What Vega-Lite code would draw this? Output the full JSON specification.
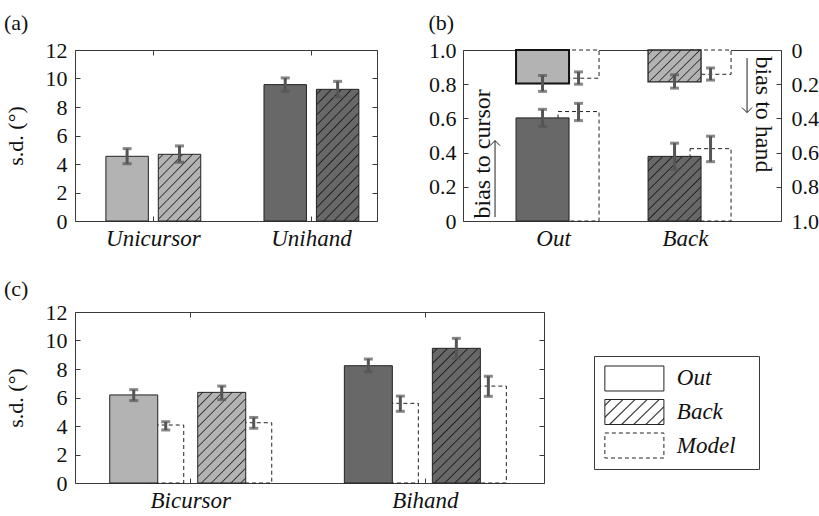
{
"$schema": "https://vega.github.io/schema/vega-lite/v6.json",
"padding": {"left": 3, "top": 11, "right": 0, "bottom": 0},
"background": "white",
"datasets": {
 "a": [
  {"group":"Unicursor","dir":"Out","sd":4.54,"lo":4.02,"hi":5.08},
  {"group":"Unicursor","dir":"Back","sd":4.68,"lo":4.12,"hi":5.27},
  {"group":"Unihand","dir":"Out","sd":9.57,"lo":9.1,"hi":10.04},
  {"group":"Unihand","dir":"Back","sd":9.24,"lo":8.7,"hi":9.8}
 ],
 "b": [
  {"dir":"Out","src":"data","cursor":0.603,"cLo":0.552,"cHi":0.653,"hand":0.196,"hLo":0.149,"hHi":0.242},
  {"dir":"Out","src":"model","cursor":0.64,"cLo":0.587,"cHi":0.688,"hand":0.165,"hLo":0.128,"hHi":0.2},
  {"dir":"Back","src":"data","cursor":0.378,"cLo":0.3,"cHi":0.455,"hand":0.186,"hLo":0.145,"hHi":0.223},
  {"dir":"Back","src":"model","cursor":0.423,"cLo":0.347,"cHi":0.496,"hand":0.142,"hLo":0.105,"hHi":0.176}
 ],
 "c": [
  {"group":"Bicursor","dir":"Out","src":"data","sd":6.18,"lo":5.78,"hi":6.55},
  {"group":"Bicursor","dir":"Out","src":"model","sd":4.07,"lo":3.72,"hi":4.3},
  {"group":"Bicursor","dir":"Back","src":"data","sd":6.36,"lo":5.85,"hi":6.8},
  {"group":"Bicursor","dir":"Back","src":"model","sd":4.23,"lo":3.84,"hi":4.6},
  {"group":"Bihand","dir":"Out","src":"data","sd":8.23,"lo":7.81,"hi":8.7},
  {"group":"Bihand","dir":"Out","src":"model","sd":5.59,"lo":5.03,"hi":6.1},
  {"group":"Bihand","dir":"Back","src":"data","sd":9.45,"lo":8.75,"hi":10.15},
  {"group":"Bihand","dir":"Back","src":"model","sd":6.8,"lo":6.08,"hi":7.49}
 ],
 "legend": [{"item":"Out"},{"item":"Back"},{"item":"Model"}]
},
"config": {
 "font": "Liberation Serif",
 "view": {"stroke": "#3a3a3a", "strokeWidth": 1},
 "axis": {"grid": false, "domain": false, "labelOverlap": false, "labelFont": "Liberation Serif", "labelFontSize": 22, "labelColor": "#111111", "titleFont": "Liberation Serif", "titleFontSize": 22, "titleFontWeight": "normal", "titleColor": "#111111", "tickColor": "#3a3a3a", "tickWidth": 1, "tickSize": -5},
 "title": {"font": "Liberation Serif", "fontSize": 22, "fontWeight": "normal", "color": "#111111", "anchor": "start", "frame": "bounds", "baseline": "alphabetic"}
},
"spacing": 26,
"vconcat": [
 {"spacing": 50, "hconcat": [
  {
   "title": {"text": "(a)", "offset": 4},
   "width": 302, "height": 171,
   "data": {"name": "a"},
   "encoding": {
    "x": {"field": "group", "type": "nominal", "scale": {"domain": ["Unicursor","Unihand"], "paddingInner": 0.4, "paddingOuter": 0.155, "align": 0.63}, "axis": {"title": null, "labelAngle": 0, "labelFontStyle": "italic", "labelFontSize": 23, "labelPadding": 11}},
    "xOffset": {"field": "dir", "type": "nominal", "scale": {"domain": ["Out","Back"], "paddingInner": 0.19, "paddingOuter": 0}}
   },
   "layer": [
    {"layer": [
     {"transform": [{"filter": "datum.dir === 'Out'"}], "mark": {"type": "bar", "stroke": "#222222", "strokeWidth": 1},
      "encoding": {"y": {"field": "sd", "type": "quantitative", "scale": {"domain": [0,12], "nice": false}, "axis": {"title": "s.d. (°)", "values": [0,4,8,12], "labelPadding": 13, "titlePadding": 18}},
       "fill": {"field": "group", "type": "nominal", "scale": {"domain": ["Unicursor","Unihand"], "range": ["#b3b3b3","#686868"]}, "legend": null}}},
     {"transform": [{"filter": "datum.dir === 'Back' && datum.group === 'Unicursor'"}],
      "mark": {"type": "bar", "stroke": "#222222", "strokeWidth": 1, "fill": {"gradient": "linear", "x1": 0, "y1": 0, "x2": 0.755, "y2": 1.159, "stops": [
       {"offset":0.0336,"color":"#b3b3b3"},{"offset":0.0455,"color":"#333333"},{"offset":0.0573,"color":"#b3b3b3"},
       {"offset":0.1245,"color":"#b3b3b3"},{"offset":0.1364,"color":"#333333"},{"offset":0.1482,"color":"#b3b3b3"},
       {"offset":0.2155,"color":"#b3b3b3"},{"offset":0.2273,"color":"#333333"},{"offset":0.2391,"color":"#b3b3b3"},
       {"offset":0.3064,"color":"#b3b3b3"},{"offset":0.3182,"color":"#333333"},{"offset":0.3300,"color":"#b3b3b3"},
       {"offset":0.3973,"color":"#b3b3b3"},{"offset":0.4091,"color":"#333333"},{"offset":0.4209,"color":"#b3b3b3"},
       {"offset":0.4882,"color":"#b3b3b3"},{"offset":0.5,"color":"#333333"},{"offset":0.5118,"color":"#b3b3b3"},
       {"offset":0.5791,"color":"#b3b3b3"},{"offset":0.5909,"color":"#333333"},{"offset":0.6027,"color":"#b3b3b3"},
       {"offset":0.6700,"color":"#b3b3b3"},{"offset":0.6818,"color":"#333333"},{"offset":0.6936,"color":"#b3b3b3"},
       {"offset":0.7609,"color":"#b3b3b3"},{"offset":0.7727,"color":"#333333"},{"offset":0.7845,"color":"#b3b3b3"},
       {"offset":0.8518,"color":"#b3b3b3"},{"offset":0.8636,"color":"#333333"},{"offset":0.8754,"color":"#b3b3b3"},
       {"offset":0.9427,"color":"#b3b3b3"},{"offset":0.9545,"color":"#333333"},{"offset":0.9663,"color":"#b3b3b3"}]}},
      "encoding": {"y": {"field": "sd", "type": "quantitative"}}},
     {"transform": [{"filter": "datum.dir === 'Back' && datum.group === 'Unihand'"}],
      "mark": {"type": "bar", "stroke": "#222222", "strokeWidth": 1, "fill": {"gradient": "linear", "x1": 0, "y1": 0, "x2": 0.397, "y2": 1.2, "stops": [
       {"offset":0.0218,"color":"#686868"},{"offset":0.0294,"color":"#1e1e1e"},{"offset":0.0371,"color":"#686868"},
       {"offset":0.0806,"color":"#686868"},{"offset":0.0882,"color":"#1e1e1e"},{"offset":0.0959,"color":"#686868"},
       {"offset":0.1394,"color":"#686868"},{"offset":0.1471,"color":"#1e1e1e"},{"offset":0.1547,"color":"#686868"},
       {"offset":0.1982,"color":"#686868"},{"offset":0.2059,"color":"#1e1e1e"},{"offset":0.2135,"color":"#686868"},
       {"offset":0.2571,"color":"#686868"},{"offset":0.2647,"color":"#1e1e1e"},{"offset":0.2724,"color":"#686868"},
       {"offset":0.3159,"color":"#686868"},{"offset":0.3235,"color":"#1e1e1e"},{"offset":0.3312,"color":"#686868"},
       {"offset":0.3747,"color":"#686868"},{"offset":0.3824,"color":"#1e1e1e"},{"offset":0.3900,"color":"#686868"},
       {"offset":0.4335,"color":"#686868"},{"offset":0.4412,"color":"#1e1e1e"},{"offset":0.4488,"color":"#686868"},
       {"offset":0.4924,"color":"#686868"},{"offset":0.5,"color":"#1e1e1e"},{"offset":0.5076,"color":"#686868"},
       {"offset":0.5512,"color":"#686868"},{"offset":0.5588,"color":"#1e1e1e"},{"offset":0.5665,"color":"#686868"},
       {"offset":0.6100,"color":"#686868"},{"offset":0.6176,"color":"#1e1e1e"},{"offset":0.6253,"color":"#686868"},
       {"offset":0.6688,"color":"#686868"},{"offset":0.6765,"color":"#1e1e1e"},{"offset":0.6841,"color":"#686868"},
       {"offset":0.7276,"color":"#686868"},{"offset":0.7353,"color":"#1e1e1e"},{"offset":0.7429,"color":"#686868"},
       {"offset":0.7865,"color":"#686868"},{"offset":0.7941,"color":"#1e1e1e"},{"offset":0.8018,"color":"#686868"},
       {"offset":0.8453,"color":"#686868"},{"offset":0.8529,"color":"#1e1e1e"},{"offset":0.8606,"color":"#686868"},
       {"offset":0.9041,"color":"#686868"},{"offset":0.9118,"color":"#1e1e1e"},{"offset":0.9194,"color":"#686868"},
       {"offset":0.9629,"color":"#686868"},{"offset":0.9706,"color":"#1e1e1e"},{"offset":0.9782,"color":"#686868"}]}},
      "encoding": {"y": {"field": "sd", "type": "quantitative"}}},
     {"mark": {"type": "rule", "color": "#555555", "strokeWidth": 3}, "encoding": {"y": {"field": "lo", "type": "quantitative"}, "y2": {"field": "hi"}}},
     {"transform": [{"fold": ["lo","hi"], "as": ["end","val"]}], "mark": {"type": "tick", "orient": "horizontal", "color": "#555555", "size": 9, "thickness": 3}, "encoding": {"y": {"field": "val", "type": "quantitative"}}}
    ]},
    {"mark": {"type": "point", "opacity": 0},
     "encoding": {"x": {"field": "group", "type": "nominal", "axis": {"orient": "top", "labels": false, "title": null}},
      "y": {"field": "sd", "type": "quantitative", "axis": {"orient": "right", "labels": false, "title": null, "values": [0,2,4,6,8,10,12]}}}},
    {"mark": {"type": "point", "opacity": 0},
     "encoding": {"x": {"field": "group", "type": "nominal", "axis": null},
      "y": {"field": "sd", "type": "quantitative", "axis": {"orient": "left", "title": null, "values": [2,6,10], "labelPadding": 13}}}}
   ],
   "resolve": {"axis": {"x": "independent", "y": "independent"}}
  },
  {
   "title": {"text": "(b)", "offset": 4},
   "width": 318, "height": 171,
   "data": {"name": "b"},
   "encoding": {
    "x": {"field": "dir", "type": "nominal", "scale": {"domain": ["Out","Back"], "paddingInner": 0.371, "paddingOuter": 0.39, "align": 0.515}, "axis": {"title": null, "labelAngle": 0, "labelFontStyle": "italic", "labelFontSize": 23, "labelPadding": 6, "labelOffset": -4, "ticks": false}}
   },
   "layer": [
    {"layer": [
     {"layer": [
      {"transform": [{"filter": "datum.src === 'model'"}], "mark": {"type": "bar", "width": 41, "xOffset": 21, "fill": "white", "stroke": "#222222", "strokeWidth": 1, "strokeDash": [4,3]},
       "encoding": {"y": {"field": "cursor", "type": "quantitative", "scale": {"domain": [0,1], "nice": false},
        "axis": {"orient": "left", "values": [0,0.4,0.8], "labelExpr": "datum.value === 0 ? '0' : format(datum.value, '.1f')", "labelPadding": 12,
         "title": "bias to cursor", "titleAngle": -90, "titleX": 7, "titleY": 168, "titleAlign": "left", "titleBaseline": "top", "titleFontSize": 24}}}},
      {"transform": [{"filter": "datum.src === 'data' && datum.dir === 'Out'"}], "mark": {"type": "bar", "width": 53, "xOffset": -15, "fill": "#686868", "stroke": "#222222", "strokeWidth": 1},
       "encoding": {"y": {"field": "cursor", "type": "quantitative"}}},
      {"transform": [{"filter": "datum.src === 'data' && datum.dir === 'Back'"}], "mark": {"type": "bar", "width": 53, "xOffset": -15, "stroke": "#222222", "strokeWidth": 1,
       "fill": {"gradient": "linear", "x1": 0, "y1": 0, "x2": 0.889, "y2": 1.09, "stops": [
        {"offset":0.0308,"color":"#686868"},{"offset":0.0417,"color":"#1e1e1e"},{"offset":0.0525,"color":"#686868"},
        {"offset":0.1142,"color":"#686868"},{"offset":0.125,"color":"#1e1e1e"},{"offset":0.1358,"color":"#686868"},
        {"offset":0.1975,"color":"#686868"},{"offset":0.2083,"color":"#1e1e1e"},{"offset":0.2192,"color":"#686868"},
        {"offset":0.2808,"color":"#686868"},{"offset":0.2917,"color":"#1e1e1e"},{"offset":0.3025,"color":"#686868"},
        {"offset":0.3642,"color":"#686868"},{"offset":0.375,"color":"#1e1e1e"},{"offset":0.3858,"color":"#686868"},
        {"offset":0.4475,"color":"#686868"},{"offset":0.4583,"color":"#1e1e1e"},{"offset":0.4692,"color":"#686868"},
        {"offset":0.5308,"color":"#686868"},{"offset":0.5417,"color":"#1e1e1e"},{"offset":0.5525,"color":"#686868"},
        {"offset":0.6142,"color":"#686868"},{"offset":0.625,"color":"#1e1e1e"},{"offset":0.6358,"color":"#686868"},
        {"offset":0.6975,"color":"#686868"},{"offset":0.7083,"color":"#1e1e1e"},{"offset":0.7192,"color":"#686868"},
        {"offset":0.7808,"color":"#686868"},{"offset":0.7917,"color":"#1e1e1e"},{"offset":0.8025,"color":"#686868"},
        {"offset":0.8642,"color":"#686868"},{"offset":0.875,"color":"#1e1e1e"},{"offset":0.8858,"color":"#686868"},
        {"offset":0.9475,"color":"#686868"},{"offset":0.9583,"color":"#1e1e1e"},{"offset":0.9692,"color":"#686868"}]}},
       "encoding": {"y": {"field": "cursor", "type": "quantitative"}}},
      {"transform": [{"filter": "datum.src === 'data'"}], "mark": {"type": "rule", "color": "#555555", "strokeWidth": 3, "xOffset": -15}, "encoding": {"y": {"field": "cLo", "type": "quantitative"}, "y2": {"field": "cHi"}}},
      {"transform": [{"filter": "datum.src === 'data'"}, {"fold": ["cLo","cHi"], "as": ["end","val"]}], "mark": {"type": "tick", "orient": "horizontal", "color": "#555555", "size": 9, "thickness": 3, "xOffset": -15}, "encoding": {"y": {"field": "val", "type": "quantitative"}}},
      {"transform": [{"filter": "datum.src === 'model'"}], "mark": {"type": "rule", "color": "#555555", "strokeWidth": 3, "xOffset": 21}, "encoding": {"y": {"field": "cLo", "type": "quantitative"}, "y2": {"field": "cHi"}}},
      {"transform": [{"filter": "datum.src === 'model'"}, {"fold": ["cLo","cHi"], "as": ["end","val"]}], "mark": {"type": "tick", "orient": "horizontal", "color": "#555555", "size": 9, "thickness": 3, "xOffset": 21}, "encoding": {"y": {"field": "val", "type": "quantitative"}}},
      {"data": {"values": [{}]}, "mark": {"type": "rule", "color": "#222222", "strokeWidth": 1, "xOffset": -62.5}, "encoding": {"x": {"datum": "Out", "type": "nominal"}, "y": {"datum": 0.023, "type": "quantitative"}, "y2": {"datum": 0.47}}},
      {"data": {"values": [{}]}, "mark": {"type": "point", "shape": "M-1,1L0,0L1,1", "size": 100, "filled": false, "opacity": 1, "stroke": "#222222", "strokeWidth": 1, "xOffset": -62.5}, "encoding": {"x": {"datum": "Out", "type": "nominal"}, "y": {"datum": 0.47, "type": "quantitative"}}}
     ]},
     {"mark": {"type": "point", "opacity": 0},
      "encoding": {"y": {"field": "cursor", "type": "quantitative", "axis": {"orient": "left", "title": null, "values": [0.2,0.6,1], "labelExpr": "format(datum.value, '.1f')", "labelPadding": 12}}}}
    ], "resolve": {"axis": {"y": "independent"}}},
    {"layer": [
     {"layer": [
      {"transform": [{"filter": "datum.src === 'model'"}], "mark": {"type": "bar", "width": 41, "xOffset": 21, "fill": "white", "stroke": "#222222", "strokeWidth": 1, "strokeDash": [4,3]},
       "encoding": {"y": {"field": "hand", "type": "quantitative", "scale": {"domain": [0,1], "nice": false, "reverse": true},
        "axis": {"orient": "right", "values": [0,0.4,0.8], "labelExpr": "datum.value === 0 ? '0' : format(datum.value, '.1f')", "labelPadding": 15,
         "title": "bias to hand", "titleAngle": 90, "titleX": -7, "titleY": 6, "titleAlign": "left", "titleBaseline": "top", "titleFontSize": 24}}}},
      {"transform": [{"filter": "datum.src === 'data' && datum.dir === 'Out'"}], "mark": {"type": "bar", "width": 53, "xOffset": -15, "fill": "#b3b3b3", "stroke": "#111111", "strokeWidth": 2},
       "encoding": {"y": {"field": "hand", "type": "quantitative"}}},
      {"transform": [{"filter": "datum.src === 'data' && datum.dir === 'Back'"}], "mark": {"type": "bar", "width": 53, "xOffset": -15, "stroke": "#222222", "strokeWidth": 1.3,
       "fill": {"gradient": "linear", "x1": 0, "y1": 0, "x2": 1.175, "y2": 0.71, "stops": [
        {"offset":0.0411,"color":"#b3b3b3"},{"offset":0.0556,"color":"#333333"},{"offset":0.0700,"color":"#b3b3b3"},
        {"offset":0.1522,"color":"#b3b3b3"},{"offset":0.1667,"color":"#333333"},{"offset":0.1811,"color":"#b3b3b3"},
        {"offset":0.2633,"color":"#b3b3b3"},{"offset":0.2778,"color":"#333333"},{"offset":0.2922,"color":"#b3b3b3"},
        {"offset":0.3744,"color":"#b3b3b3"},{"offset":0.3889,"color":"#333333"},{"offset":0.4033,"color":"#b3b3b3"},
        {"offset":0.4856,"color":"#b3b3b3"},{"offset":0.5,"color":"#333333"},{"offset":0.5144,"color":"#b3b3b3"},
        {"offset":0.5967,"color":"#b3b3b3"},{"offset":0.6111,"color":"#333333"},{"offset":0.6256,"color":"#b3b3b3"},
        {"offset":0.7078,"color":"#b3b3b3"},{"offset":0.7222,"color":"#333333"},{"offset":0.7367,"color":"#b3b3b3"},
        {"offset":0.8189,"color":"#b3b3b3"},{"offset":0.8333,"color":"#333333"},{"offset":0.8478,"color":"#b3b3b3"},
        {"offset":0.9300,"color":"#b3b3b3"},{"offset":0.9444,"color":"#333333"},{"offset":0.9589,"color":"#b3b3b3"}]}},
       "encoding": {"y": {"field": "hand", "type": "quantitative"}}},
      {"transform": [{"filter": "datum.src === 'data'"}], "mark": {"type": "rule", "color": "#555555", "strokeWidth": 3, "xOffset": -15}, "encoding": {"y": {"field": "hLo", "type": "quantitative"}, "y2": {"field": "hHi"}}},
      {"transform": [{"filter": "datum.src === 'data'"}, {"fold": ["hLo","hHi"], "as": ["end","val"]}], "mark": {"type": "tick", "orient": "horizontal", "color": "#555555", "size": 9, "thickness": 3, "xOffset": -15}, "encoding": {"y": {"field": "val", "type": "quantitative"}}},
      {"transform": [{"filter": "datum.src === 'model'"}], "mark": {"type": "rule", "color": "#555555", "strokeWidth": 3, "xOffset": 21}, "encoding": {"y": {"field": "hLo", "type": "quantitative"}, "y2": {"field": "hHi"}}},
      {"transform": [{"filter": "datum.src === 'model'"}, {"fold": ["hLo","hHi"], "as": ["end","val"]}], "mark": {"type": "tick", "orient": "horizontal", "color": "#555555", "size": 9, "thickness": 3, "xOffset": 21}, "encoding": {"y": {"field": "val", "type": "quantitative"}}},
      {"data": {"values": [{}]}, "mark": {"type": "rule", "color": "#222222", "strokeWidth": 1, "xOffset": 57.5}, "encoding": {"x": {"datum": "Back", "type": "nominal"}, "y": {"datum": 0.047, "type": "quantitative"}, "y2": {"datum": 0.366}}},
      {"data": {"values": [{}]}, "mark": {"type": "point", "shape": "M-1,-1L0,0L1,-1", "size": 100, "filled": false, "opacity": 1, "stroke": "#222222", "strokeWidth": 1, "xOffset": 57.5}, "encoding": {"x": {"datum": "Back", "type": "nominal"}, "y": {"datum": 0.366, "type": "quantitative"}}}
     ]},
     {"mark": {"type": "point", "opacity": 0},
      "encoding": {"y": {"field": "hand", "type": "quantitative", "axis": {"orient": "right", "title": null, "values": [0.2,0.6,1], "labelExpr": "format(datum.value, '.1f')", "labelPadding": 15}}}}
    ], "resolve": {"axis": {"y": "independent"}}}
   ],
   "resolve": {"scale": {"y": "independent"}, "axis": {"y": "independent"}}
  }
 ]},
 {"spacing": 48, "hconcat": [
  {
   "title": {"text": "(c)", "offset": 0},
   "width": 469, "height": 171,
   "data": {"name": "c"},
   "encoding": {
    "x": {"field": "group", "type": "nominal", "scale": {"domain": ["Bicursor","Bihand"], "paddingInner": 0.311, "paddingOuter": 0.155, "align": 0.48}, "axis": {"title": null, "labelAngle": 0, "labelFontStyle": "italic", "labelFontSize": 23, "labelPadding": 11}}
   },
   "layer": [
    {"layer": [
     {"transform": [{"filter": "datum.src === 'model' && datum.dir === 'Out'"}], "mark": {"type": "bar", "width": 36, "xOffset": -25, "fill": "white", "stroke": "#222222", "strokeWidth": 1, "strokeDash": [4,3]},
      "encoding": {"y": {"field": "sd", "type": "quantitative", "scale": {"domain": [0,12], "nice": false}, "axis": {"title": "s.d. (°)", "values": [0,4,8,12], "labelPadding": 13, "titlePadding": 18}}}},
     {"transform": [{"filter": "datum.src === 'model' && datum.dir === 'Back'"}], "mark": {"type": "bar", "width": 36, "xOffset": 63, "fill": "white", "stroke": "#222222", "strokeWidth": 1, "strokeDash": [4,3]},
      "encoding": {"y": {"field": "sd", "type": "quantitative"}}},
     {"transform": [{"filter": "datum.src === 'data' && datum.dir === 'Out'"}], "mark": {"type": "bar", "width": 48, "xOffset": -57, "stroke": "#222222", "strokeWidth": 1},
      "encoding": {"y": {"field": "sd", "type": "quantitative"},
       "fill": {"field": "group", "type": "nominal", "scale": {"domain": ["Bicursor","Bihand"], "range": ["#b3b3b3","#686868"]}, "legend": null}}},
     {"transform": [{"filter": "datum.src === 'data' && datum.dir === 'Back' && datum.group === 'Bicursor'"}],
      "mark": {"type": "bar", "width": 48, "xOffset": 31, "stroke": "#222222", "strokeWidth": 1, "fill": {"gradient": "linear", "x1": 0, "y1": 0, "x2": 0.637, "y2": 1.194, "stops": [
       {"offset":0.0264,"color":"#b3b3b3"},{"offset":0.0357,"color":"#333333"},{"offset":0.0450,"color":"#b3b3b3"},
       {"offset":0.0979,"color":"#b3b3b3"},{"offset":0.1071,"color":"#333333"},{"offset":0.1164,"color":"#b3b3b3"},
       {"offset":0.1693,"color":"#b3b3b3"},{"offset":0.1786,"color":"#333333"},{"offset":0.1879,"color":"#b3b3b3"},
       {"offset":0.2407,"color":"#b3b3b3"},{"offset":0.25,"color":"#333333"},{"offset":0.2593,"color":"#b3b3b3"},
       {"offset":0.3121,"color":"#b3b3b3"},{"offset":0.3214,"color":"#333333"},{"offset":0.3307,"color":"#b3b3b3"},
       {"offset":0.3836,"color":"#b3b3b3"},{"offset":0.3929,"color":"#333333"},{"offset":0.4021,"color":"#b3b3b3"},
       {"offset":0.4550,"color":"#b3b3b3"},{"offset":0.4643,"color":"#333333"},{"offset":0.4736,"color":"#b3b3b3"},
       {"offset":0.5264,"color":"#b3b3b3"},{"offset":0.5357,"color":"#333333"},{"offset":0.5450,"color":"#b3b3b3"},
       {"offset":0.5979,"color":"#b3b3b3"},{"offset":0.6071,"color":"#333333"},{"offset":0.6164,"color":"#b3b3b3"},
       {"offset":0.6693,"color":"#b3b3b3"},{"offset":0.6786,"color":"#333333"},{"offset":0.6879,"color":"#b3b3b3"},
       {"offset":0.7407,"color":"#b3b3b3"},{"offset":0.75,"color":"#333333"},{"offset":0.7593,"color":"#b3b3b3"},
       {"offset":0.8121,"color":"#b3b3b3"},{"offset":0.8214,"color":"#333333"},{"offset":0.8307,"color":"#b3b3b3"},
       {"offset":0.8836,"color":"#b3b3b3"},{"offset":0.8929,"color":"#333333"},{"offset":0.9021,"color":"#b3b3b3"},
       {"offset":0.9550,"color":"#b3b3b3"},{"offset":0.9643,"color":"#333333"},{"offset":0.9736,"color":"#b3b3b3"}]}},
      "encoding": {"y": {"field": "sd", "type": "quantitative"}}},
     {"transform": [{"filter": "datum.src === 'data' && datum.dir === 'Back' && datum.group === 'Bihand'"}],
      "mark": {"type": "bar", "width": 48, "xOffset": 31, "stroke": "#222222", "strokeWidth": 1, "fill": {"gradient": "linear", "x1": 0, "y1": 0, "x2": 0.428, "y2": 1.203, "stops": [
       {"offset":0.0205,"color":"#686868"},{"offset":0.0278,"color":"#1e1e1e"},{"offset":0.0350,"color":"#686868"},
       {"offset":0.0761,"color":"#686868"},{"offset":0.0833,"color":"#1e1e1e"},{"offset":0.0906,"color":"#686868"},
       {"offset":0.1317,"color":"#686868"},{"offset":0.1389,"color":"#1e1e1e"},{"offset":0.1461,"color":"#686868"},
       {"offset":0.1872,"color":"#686868"},{"offset":0.1944,"color":"#1e1e1e"},{"offset":0.2017,"color":"#686868"},
       {"offset":0.2428,"color":"#686868"},{"offset":0.25,"color":"#1e1e1e"},{"offset":0.2572,"color":"#686868"},
       {"offset":0.2983,"color":"#686868"},{"offset":0.3056,"color":"#1e1e1e"},{"offset":0.3128,"color":"#686868"},
       {"offset":0.3539,"color":"#686868"},{"offset":0.3611,"color":"#1e1e1e"},{"offset":0.3683,"color":"#686868"},
       {"offset":0.4094,"color":"#686868"},{"offset":0.4167,"color":"#1e1e1e"},{"offset":0.4239,"color":"#686868"},
       {"offset":0.4650,"color":"#686868"},{"offset":0.4722,"color":"#1e1e1e"},{"offset":0.4794,"color":"#686868"},
       {"offset":0.5206,"color":"#686868"},{"offset":0.5278,"color":"#1e1e1e"},{"offset":0.5350,"color":"#686868"},
       {"offset":0.5761,"color":"#686868"},{"offset":0.5833,"color":"#1e1e1e"},{"offset":0.5906,"color":"#686868"},
       {"offset":0.6317,"color":"#686868"},{"offset":0.6389,"color":"#1e1e1e"},{"offset":0.6461,"color":"#686868"},
       {"offset":0.6872,"color":"#686868"},{"offset":0.6944,"color":"#1e1e1e"},{"offset":0.7017,"color":"#686868"},
       {"offset":0.7428,"color":"#686868"},{"offset":0.75,"color":"#1e1e1e"},{"offset":0.7572,"color":"#686868"},
       {"offset":0.7983,"color":"#686868"},{"offset":0.8056,"color":"#1e1e1e"},{"offset":0.8128,"color":"#686868"},
       {"offset":0.8539,"color":"#686868"},{"offset":0.8611,"color":"#1e1e1e"},{"offset":0.8683,"color":"#686868"},
       {"offset":0.9094,"color":"#686868"},{"offset":0.9167,"color":"#1e1e1e"},{"offset":0.9239,"color":"#686868"},
       {"offset":0.9650,"color":"#686868"},{"offset":0.9722,"color":"#1e1e1e"},{"offset":0.9794,"color":"#686868"}]}},
      "encoding": {"y": {"field": "sd", "type": "quantitative"}}},
     {"transform": [{"filter": "datum.src === 'data' && datum.dir === 'Out'"}], "mark": {"type": "rule", "color": "#555555", "strokeWidth": 3, "xOffset": -57}, "encoding": {"y": {"field": "lo", "type": "quantitative"}, "y2": {"field": "hi"}}},
     {"transform": [{"filter": "datum.src === 'data' && datum.dir === 'Out'"}, {"fold": ["lo","hi"], "as": ["end","val"]}], "mark": {"type": "tick", "orient": "horizontal", "color": "#555555", "size": 9, "thickness": 3, "xOffset": -57}, "encoding": {"y": {"field": "val", "type": "quantitative"}}},
     {"transform": [{"filter": "datum.src === 'data' && datum.dir === 'Back'"}], "mark": {"type": "rule", "color": "#555555", "strokeWidth": 3, "xOffset": 31}, "encoding": {"y": {"field": "lo", "type": "quantitative"}, "y2": {"field": "hi"}}},
     {"transform": [{"filter": "datum.src === 'data' && datum.dir === 'Back'"}, {"fold": ["lo","hi"], "as": ["end","val"]}], "mark": {"type": "tick", "orient": "horizontal", "color": "#555555", "size": 9, "thickness": 3, "xOffset": 31}, "encoding": {"y": {"field": "val", "type": "quantitative"}}},
     {"transform": [{"filter": "datum.src === 'model' && datum.dir === 'Out'"}], "mark": {"type": "rule", "color": "#555555", "strokeWidth": 3, "xOffset": -25}, "encoding": {"y": {"field": "lo", "type": "quantitative"}, "y2": {"field": "hi"}}},
     {"transform": [{"filter": "datum.src === 'model' && datum.dir === 'Out'"}, {"fold": ["lo","hi"], "as": ["end","val"]}], "mark": {"type": "tick", "orient": "horizontal", "color": "#555555", "size": 9, "thickness": 3, "xOffset": -25}, "encoding": {"y": {"field": "val", "type": "quantitative"}}},
     {"transform": [{"filter": "datum.src === 'model' && datum.dir === 'Back'"}], "mark": {"type": "rule", "color": "#555555", "strokeWidth": 3, "xOffset": 63}, "encoding": {"y": {"field": "lo", "type": "quantitative"}, "y2": {"field": "hi"}}},
     {"transform": [{"filter": "datum.src === 'model' && datum.dir === 'Back'"}, {"fold": ["lo","hi"], "as": ["end","val"]}], "mark": {"type": "tick", "orient": "horizontal", "color": "#555555", "size": 9, "thickness": 3, "xOffset": 63}, "encoding": {"y": {"field": "val", "type": "quantitative"}}}
    ]},
    {"mark": {"type": "point", "opacity": 0},
     "encoding": {"x": {"field": "group", "type": "nominal", "axis": {"orient": "top", "labels": false, "title": null}},
      "y": {"field": "sd", "type": "quantitative", "axis": {"orient": "right", "labels": false, "title": null, "values": [0,2,4,6,8,10,12]}}}},
    {"mark": {"type": "point", "opacity": 0},
     "encoding": {"x": {"field": "group", "type": "nominal", "axis": null},
      "y": {"field": "sd", "type": "quantitative", "axis": {"orient": "left", "title": null, "values": [2,6,10], "labelPadding": 13}}}}
   ],
   "resolve": {"axis": {"x": "independent", "y": "independent"}}
  },
  {"spacing": 10, "vconcat": [
   {"width": 165, "height": 33, "data": {"values": [{}]}, "mark": {"type": "point", "opacity": 0}, "view": {"stroke": null}},
   {
    "width": 165, "height": 113,
    "data": {"name": "legend"},
    "encoding": {
     "y": {"field": "item", "type": "nominal", "scale": {"domain": ["Out","Back","Model"], "paddingInner": 0.254, "paddingOuter": 0.313, "align": 0.476}, "axis": null},
     "x": {"datum": "swatch", "type": "nominal", "scale": {"domain": ["swatch","label"], "paddingInner": 0.18, "paddingOuter": 0.236, "align": 0.32}, "axis": null}
    },
    "layer": [
     {"transform": [{"filter": "datum.item === 'Out'"}], "mark": {"type": "rect", "fill": "white", "stroke": "#222222", "strokeWidth": 1}},
     {"transform": [{"filter": "datum.item === 'Back'"}], "mark": {"type": "rect", "stroke": "#222222", "strokeWidth": 1,
      "fill": {"gradient": "linear", "x1": 0, "y1": 0, "x2": 1.207, "y2": 0.52, "stops": [
       {"offset":0.0529,"color":"#ffffff"},{"offset":0.0714,"color":"#222222"},{"offset":0.0900,"color":"#ffffff"},
       {"offset":0.1957,"color":"#ffffff"},{"offset":0.2143,"color":"#222222"},{"offset":0.2329,"color":"#ffffff"},
       {"offset":0.3386,"color":"#ffffff"},{"offset":0.3571,"color":"#222222"},{"offset":0.3757,"color":"#ffffff"},
       {"offset":0.4814,"color":"#ffffff"},{"offset":0.5,"color":"#222222"},{"offset":0.5186,"color":"#ffffff"},
       {"offset":0.6243,"color":"#ffffff"},{"offset":0.6429,"color":"#222222"},{"offset":0.6614,"color":"#ffffff"},
       {"offset":0.7671,"color":"#ffffff"},{"offset":0.7857,"color":"#222222"},{"offset":0.8043,"color":"#ffffff"},
       {"offset":0.9100,"color":"#ffffff"},{"offset":0.9286,"color":"#222222"},{"offset":0.9471,"color":"#ffffff"}]}}},
     {"transform": [{"filter": "datum.item === 'Model'"}], "mark": {"type": "rect", "fill": "white", "stroke": "#222222", "strokeWidth": 1, "strokeDash": [4,3]}},
     {"mark": {"type": "text", "align": "left", "baseline": "middle", "font": "Liberation Serif", "fontStyle": "italic", "fontSize": 23, "color": "#111111"},
      "encoding": {"x": {"datum": "label", "type": "nominal", "bandPosition": 0}, "text": {"field": "item"}}}
    ]
   }
  ]}
 ]}
]
}
